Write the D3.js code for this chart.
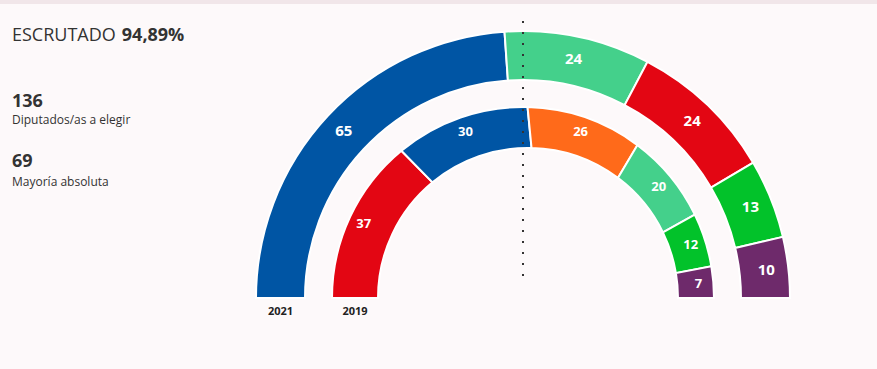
<!DOCTYPE html>
<html>
<head>
<meta charset="utf-8">
<script src="https://cdn.jsdelivr.net/npm/d3@7"></script>
<style>
  html, body { margin: 0; padding: 0; background: #fdf9fa; }
  svg { display: block; font-family: "Open Sans", sans-serif; }
</style>
</head>
<body>
<svg id="chart" width="877" height="369"></svg>
<script>
// ---- data ----
const parties2021 = ["PP", "Más Madrid", "PSOE", "Vox", "Unidas Podemos"];
const seats2021 = [65, 24, 24, 13, 10];
const colors2021 = ["#0055a4", "#44d08b", "#e30613", "#02c22a", "#6e2a6b"];

const parties2019 = ["PSOE", "PP", "Cs", "Más Madrid", "Vox", "Unidas Podemos"];
const seats2019 = [37, 30, 26, 20, 12, 7];
const colors2019 = ["#e30613", "#0055a4", "#ff6a1a", "#44d08b", "#02c22a", "#6e2a6b"];

const years = ["2021", "2019"];
const scrutinyLabel = "ESCRUTADO";
const scrutinyValue = "94,89%";
const totalSeats = 136;
const majority = 69;

// ---- layout ----
const svg = d3.select("#chart");
const W = 877, H = 369;
const cx = 523, cy = 298;

svg.append("rect").attr("width", W).attr("height", H).attr("fill", "#fdf9fa");
svg.append("rect").attr("width", W).attr("height", 4).attr("fill", "#f1e6e9");

const rings = [
  { year: years[0], values: seats2021, colors: colors2021, r0: 218, r1: 267, innerShift: 0, lr: 245, fs: 15, yearX: -280 + 0 },
  { year: years[1], values: seats2019, colors: colors2019, r0: 150, r1: 191, innerShift: 5, lr: 176, fs: 13, yearX: 0 }
];

const pie = d3.pie().sort(null).value(d => d)
  .startAngle(-Math.PI / 2).endAngle(Math.PI / 2);

const g = svg.append("g").attr("transform", `translate(${cx},${cy})`);

function segPath(d, r0, r1, shift) {
  const t0 = d.startAngle - Math.PI / 2, t1 = d.endAngle - Math.PI / 2;
  const p = d3.path();
  p.moveTo(r1 * Math.cos(t0), r1 * Math.sin(t0));
  p.arc(0, 0, r1, t0, t1, false);
  p.lineTo(shift + r0 * Math.cos(t1), r0 * Math.sin(t1));
  p.arc(shift, 0, r0, t1, t0, true);
  p.closePath();
  return p.toString();
}

rings.forEach(ring => {
  const arcs = pie(ring.values);
  const labelArc = d3.arc().innerRadius(ring.lr).outerRadius(ring.lr);
  const rg = g.append("g");
  rg.selectAll("path").data(arcs).join("path")
    .attr("d", d => segPath(d, ring.r0, ring.r1, ring.innerShift))
    .attr("fill", (d, i) => ring.colors[i])
    .attr("stroke", "#ffffff")
    .attr("stroke-width", 2);
  rg.selectAll("text").data(arcs).join("text")
    .attr("transform", d => `translate(${labelArc.centroid(d)})`)
    .attr("text-anchor", "middle")
    .attr("dy", "0.36em")
    .attr("fill", "#ffffff")
    .attr("font-weight", 700)
    .attr("font-size", ring.fs)
    .text(d => d.data);
  // year label under the left end of the ring
  const leftInner = ring.innerShift - ring.r0;
  g.append("text")
    .attr("x", (-ring.r1 + leftInner) / 2)
    .attr("y", 17)
    .attr("text-anchor", "middle")
    .attr("font-size", 11)
    .attr("font-weight", 700)
    .attr("fill", "#222")
    .text(ring.year);
});

// dotted majority line
svg.append("line")
  .attr("x1", cx).attr("x2", cx)
  .attr("y1", 21).attr("y2", 281)
  .attr("stroke", "#333")
  .attr("stroke-width", 2)
  .attr("stroke-dasharray", "2,9");

// left info texts
const info = svg.append("g").attr("fill", "#333");
const t1 = info.append("text").attr("x", 12).attr("y", 41).attr("font-size", 18);
t1.append("tspan").text(scrutinyLabel);
t1.append("tspan").attr("dx", 6).attr("font-weight", 700).text(scrutinyValue);

info.append("text").attr("x", 12).attr("y", 107).attr("font-size", 18).attr("font-weight", 700).text(totalSeats);
info.append("text").attr("x", 12).attr("y", 124).attr("font-size", 12).text("Diputados/as a elegir");
info.append("text").attr("x", 12).attr("y", 167).attr("font-size", 18).attr("font-weight", 700).text(majority);
info.append("text").attr("x", 12).attr("y", 186).attr("font-size", 12).text("Mayoría absoluta");
</script>
</body>
</html>
